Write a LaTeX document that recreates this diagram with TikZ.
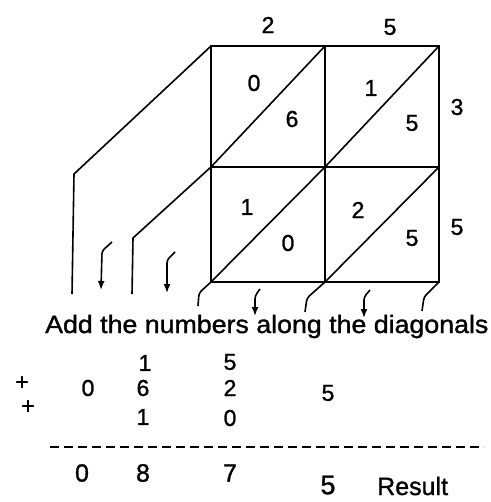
\documentclass[tikz,border=0pt]{standalone}
\usepackage{fontspec}
\setmainfont{Liberation Sans}
\newfontfamily\scanfont{Liberation Sans}[FakeBold=1.2]
\usepackage{graphicx}
\usetikzlibrary{arrows.meta}
\tikzset{
  digit/.style={font=\scanfont\fontsize{23}{23}\selectfont,inner sep=0pt},
  bigdigit/.style={font=\scanfont\fontsize{25}{25}\selectfont,inner sep=0pt},
  gridline/.style={line width=2pt},
  diag/.style={line width=1.6pt,line join=round},
  hook/.style={line width=1.6pt,rounded corners=3pt},
  flow/.style={-{Latex[length=9pt,width=7pt]},line width=1.6pt,rounded corners=3pt},
}

\begin{document}
\begin{tikzpicture}[x=1pt,y=-1pt]
  \useasboundingbox (0,0) rectangle (490,502);
  % lattice corners
  \coordinate (A) at (211,46);  \coordinate (B) at (325,46);  \coordinate (C) at (439,46);
  \coordinate (D) at (211,167); \coordinate (E) at (325,167); \coordinate (F) at (439,167);
  \coordinate (G) at (211,282); \coordinate (H) at (325,282); \coordinate (I) at (439,282);
  \draw[gridline] (A) rectangle (I);
  \draw[gridline] (B) -- (H);
  \draw[gridline] (D) -- (F);
  % diagonals
  \draw[diag] (D) -- (B);
  \draw[diag] (E) -- (C);
  \draw[diag] (G) -- (E);
  \draw[diag] (H) -- (F);
  % diagonals carried out of the lattice
  \draw[diag] (A) -- (74,174) -- (72,294);
  \draw[diag] (D) -- (133,238) -- (132,294);
  \draw[hook] (G) -- (199,293) -- (198,306);
  \draw[hook] (H) -- (307,298) -- (305,312);
  \draw[hook] (I) -- (424,297) -- (422,311);
  % arrows down to the sums
  \draw[flow] (112,242) -- (102,251) -- (101,290);
  \draw[flow] (175,252) -- (167,260) -- (167,293);
  \draw[flow] (260,289) -- (255,296) -- (255,316);
  \draw[flow] (370,290) -- (364,297) -- (364,318);

  % factors
  \node[digit] (top2) at (268,25) {2};
  \node[digit] (top5) at (390,27) {5};
  \node[digit] (side3) at (457,107) {3};
  \node[digit] (side5) at (457,227) {5};
  % partial products
  \node[digit] (p1t) at (254,83) {0};
  \node[digit] (p1u) at (292,119) {6};
  \node[digit] (p2t) at (371,88) {1};
  \node[digit] (p2u) at (412,123) {5};
  \node[digit] (p3t) at (247,207) {1};
  \node[digit] (p3u) at (288,243) {0};
  \node[digit] (p4t) at (358,210) {2};
  \node[digit] (p4u) at (412,238) {5};

  \node[anchor=base west,font=\scanfont\fontsize{25}{25}\selectfont,inner sep=0pt] (note) at (45,333)
    {\scalebox{1.07}[1]{Add the numbers along the diagonals}};

  % the column sums
  \node[digit] (s1a) at (145,363) {1};
  \node[digit] (s2a) at (230,362) {5};
  \node[digit] (plus1) at (22,383) {+};
  \node[digit] (s0b) at (88,388) {0};
  \node[digit] (s1b) at (143,388) {6};
  \node[digit] (s2b) at (230,388) {2};
  \node[digit] (s3b) at (328,393) {5};
  \node[digit] (plus2) at (28,407) {+};
  \node[digit] (s1c) at (143,417) {1};
  \node[digit] (s2c) at (230,418) {0};
  \coordinate (ruleL) at (50,447);
  \coordinate (ruleR) at (484,447);
  \draw[line width=1.4pt,dash pattern=on 9pt off 5pt] (ruleL) -- (ruleR);
  \node[bigdigit] (r0) at (82,473) {0};
  \node[bigdigit] (r1) at (143,473) {8};
  \node[bigdigit] (r2) at (230,473) {7};
  \node[bigdigit,font=\scanfont\fontsize{27}{27}\selectfont] (r3) at (328,485) {5};
  \node[anchor=base west,font=\scanfont\fontsize{25}{25}\selectfont,inner sep=0pt] (res) at (377,495) {Result};
\end{tikzpicture}
\end{document}
